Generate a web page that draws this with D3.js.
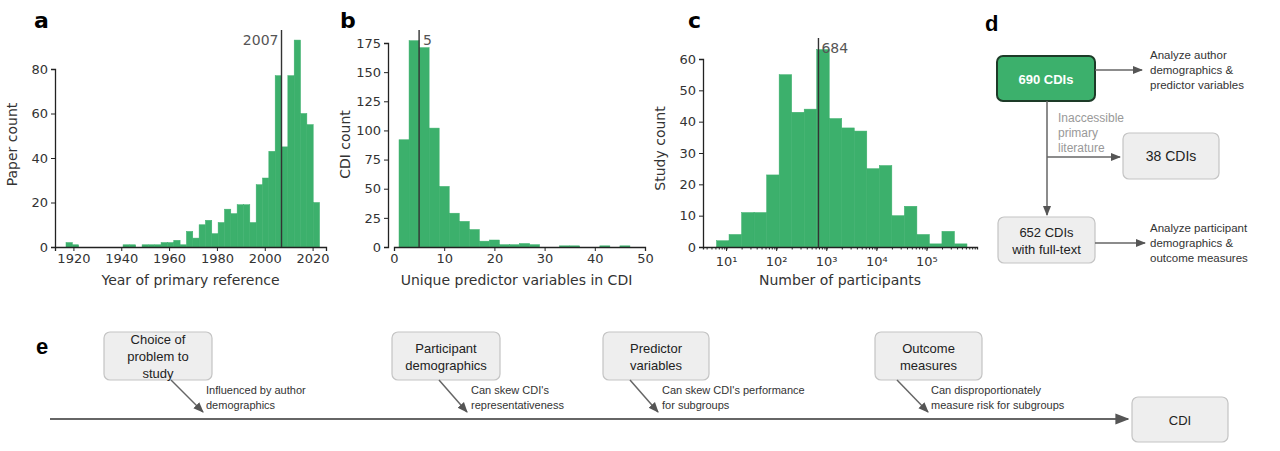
<!DOCTYPE html>
<html><head><meta charset="utf-8">
<script src="https://cdn.jsdelivr.net/npm/d3@7"></script>
<style>
body{margin:0;background:#fff}
svg text{font-family:"DejaVu Sans",sans-serif}
.dg text{font-family:"Liberation Sans",Arial,sans-serif}
</style></head><body>
<svg id="fig" width="1280" height="451"></svg>
<script>
// panel a: paper counts per ~2.65-year bin, starting 1916.9
var yearStart = 1916.9, yearStep = 2.65;
var yearCounts = [2,1,0,0,0,0,0,0,0,1,1,0,1,1,1,2,2,3,1,7,4,10,12,6,11,17,15,19,19,11,28,31,43,77,45,77,93,60,55,20];
var yearTicks = [1920,1940,1960,1980,2000,2020];
var yearMedian = 2007;

// panel b: CDI counts per 2-variable bin, starting at 1
var predStart = 1, predStep = 2;
var predCounts = [92,177,171,102,52,29,22,15,5,6,2,2,3,2,0,0,1,1,0,0,1,0,1,0];
var predTicks = [0,10,20,30,40,50];
var predMedian = 5;

// panel c: study counts per quarter-decade bin, starting at 10^0.8
var partStart = 0.8, partStep = 0.25;
var partCounts = [2,4,11,11,23,55,43,44,63,41,38,37,25,26,10,13,4,1,5,1];
var partMedian = 684;

var green = '#3cb06c';
var svg = d3.select('#fig');

function hist(o){
  var g = svg.append('g');
  var x = o.x, y = o.y;
  g.selectAll('rect').data(o.bins).enter().append('rect')
    .attr('x', function(d){ return x(d.x0); })
    .attr('width', function(d){ return Math.max(0, x(d.x1) - x(d.x0)); })
    .attr('y', function(d){ return y(d.v); })
    .attr('height', function(d){ return y(0) - y(d.v); })
    .attr('fill', green).attr('stroke', green).attr('stroke-width', 0.5);
  var ax = g.append('g').attr('transform', 'translate(0,' + o.bottom + ')').call(o.xAxis);
  var ay = g.append('g').attr('transform', 'translate(' + o.left + ',0)')
    .call(d3.axisLeft(y).tickValues(o.yTicks).tickSize(4).tickPadding(3));
  [ax, ay].forEach(function(a){
    a.select('.domain').attr('stroke', '#222').attr('stroke-width', 1.3);
    a.selectAll('.tick line').attr('stroke', '#222');
    a.selectAll('text').attr('font-size', 13).attr('fill', '#333').attr('font-family', '"DejaVu Sans"');
  });
  var mx = x(o.median);
  g.append('line').attr('x1', mx).attr('x2', mx).attr('y1', o.top).attr('y2', o.bottom)
    .attr('stroke', '#333').attr('stroke-width', 1.4);
  g.append('text').attr('x', mx + o.medDx).attr('y', o.top + 15).attr('text-anchor', o.medAnchor)
    .attr('font-size', 14).attr('fill', '#555').text(o.medLabel);
  g.append('text').attr('x', (o.left + o.right) / 2).attr('y', o.bottom + 38).attr('text-anchor', 'middle')
    .attr('font-size', 14).attr('fill', '#333').text(o.xTitle);
  g.append('text').attr('transform', 'translate(' + (o.left - 38) + ',' + ((o.top + o.bottom) / 2 + 6) + ') rotate(-90)')
    .attr('text-anchor', 'middle').attr('font-size', 14).attr('fill', '#333').text(o.yTitle);
  g.append('text').attr('x', o.labX).attr('y', 28).attr('font-size', 22).attr('font-weight', 'bold')
    .attr('font-family', '"Liberation Sans",Arial').text(o.label);
}

// a
var xa = d3.scaleLinear().domain([1912.3, 2025.6]).range([55, 326]);
var ya = d3.scaleLinear().domain([0, 80]).range([247, 69]);
hist({
  x: xa, y: ya, top: 30, bottom: 247, left: 55, right: 326,
  bins: yearCounts.map(function(v, i){ return {x0: yearStart + i * yearStep, x1: yearStart + (i + 1) * yearStep, v: v}; }),
  xAxis: d3.axisBottom(xa).tickValues(yearTicks).tickFormat(d3.format('d')).tickSize(4).tickPadding(3),
  yTicks: [0,20,40,60,80], median: yearMedian, medLabel: '2007', medDx: -3, medAnchor: 'end',
  xTitle: 'Year of primary reference', yTitle: 'Paper count', label: 'a', labX: 34
});

// b
var xb = d3.scaleLinear().domain([0, 50]).range([394, 645]);
var yb = d3.scaleLinear().domain([0, 175]).range([247, 43]);
hist({
  x: xb, y: yb, top: 30, bottom: 247, left: 388, right: 645,
  bins: predCounts.map(function(v, i){ return {x0: predStart + i * predStep, x1: predStart + (i + 1) * predStep, v: v}; }),
  xAxis: d3.axisBottom(xb).tickValues(predTicks).tickSize(4).tickPadding(3),
  yTicks: [0,25,50,75,100,125,150,175], median: predMedian, medLabel: '5', medDx: 4, medAnchor: 'start',
  xTitle: 'Unique predictor variables in CDI', yTitle: 'CDI count', label: 'b', labX: 340
});

// c
var xc = d3.scaleLog().domain([Math.pow(10, 0.53), Math.pow(10, 6)]).range([703, 977]);
var yc = d3.scaleLinear().domain([0, 60]).range([247, 59]);
var minor = [];
for (var e = 0; e <= 5; e++) for (var m = 1; m < 10; m++) {
  var v = m * Math.pow(10, e);
  if (v >= xc.domain()[0] && v <= xc.domain()[1]) minor.push(v);
}
hist({
  x: xc, y: yc, top: 38, bottom: 247, left: 703, right: 977,
  bins: partCounts.map(function(v, i){ return {x0: Math.pow(10, partStart + i * partStep), x1: Math.pow(10, partStart + (i + 1) * partStep), v: v}; }),
  xAxis: function(sel){
    sel.call(d3.axisBottom(xc).tickValues(minor).tickFormat('').tickSize(2.5));
    var sup = {1:'¹',2:'²',3:'³',4:'⁴',5:'⁵'};
    [1,2,3,4,5].forEach(function(p){
      var px = xc(Math.pow(10, p));
      sel.append('line').attr('x1', px).attr('x2', px).attr('y2', 4).attr('stroke', '#222');
      sel.append('text').attr('x', px).attr('y', 19).attr('text-anchor', 'middle').text('10' + sup[p]);
    });
  },
  yTicks: [0,10,20,30,40,50,60], median: partMedian, medLabel: '684', medDx: 3, medAnchor: 'start',
  xTitle: 'Number of participants', yTitle: 'Study count', label: 'c', labX: 688
});

// diagrams
var dg = svg.append('g').attr('class', 'dg');
var defs = svg.append('defs');
defs.append('marker').attr('id', 'ar').attr('viewBox', '0 0 10 10').attr('refX', 9).attr('refY', 5)
  .attr('markerWidth', 7).attr('markerHeight', 7).attr('orient', 'auto')
  .append('path').attr('d', 'M0,1L10,5L0,9z').attr('fill', '#555');

function box(x, y, w, h, lines, opt){
  opt = opt || {};
  dg.append('rect').attr('x', x).attr('y', y).attr('width', w).attr('height', h).attr('rx', 6)
    .attr('fill', opt.fill || '#eeeeee').attr('stroke', opt.stroke || '#c4c4c4').attr('stroke-width', opt.sw || 1.2);
  var lh = opt.lh || 16.5, c = y + h / 2 - (lines.length - 1) * lh / 2 + 5;
  lines.forEach(function(t, i){
    dg.append('text').attr('x', x + w / 2).attr('y', c + i * lh).attr('text-anchor', 'middle')
      .attr('font-size', opt.fs || 14).attr('font-weight', opt.bold ? 'bold' : null)
      .attr('fill', opt.color || '#222').text(t);
  });
}
function arrow(x1, y1, x2, y2, w){
  dg.append('line').attr('x1', x1).attr('y1', y1).attr('x2', x2).attr('y2', y2)
    .attr('stroke', '#666').attr('stroke-width', w || 1.5).attr('marker-end', 'url(#ar)');
}
function note(x, y, lines, color, fs){
  lines.forEach(function(t, i){
    dg.append('text').attr('x', x).attr('y', y + i * 15).attr('font-size', fs || 11.5)
      .attr('fill', color || '#333').text(t);
  });
}

// d
dg.append('text').attr('x', 985).attr('y', 31).attr('font-size', 22).attr('font-weight', 'bold').text('d');
box(997, 56, 98, 45, ['690 CDIs'], {fill: green, stroke: '#1d3b28', sw: 2, bold: true, color: '#fff', fs: 13});
arrow(1095, 70, 1142, 70);
note(1150, 59, ['Analyze author', 'demographics &', 'predictor variables']);
dg.append('line').attr('x1', 1047).attr('y1', 101).attr('x2', 1047).attr('y2', 157).attr('stroke', '#666').attr('stroke-width', 1.5);
arrow(1047, 157, 1047, 215);
arrow(1047, 157, 1120, 157);
note(1058, 122, ['Inaccessible', 'primary', 'literature'], '#999', 12);
box(1123, 133, 96, 46, ['38 CDIs'], {fs: 14});
box(998, 217, 97, 46, ['652 CDIs', 'with full-text'], {fs: 13, lh: 17});
arrow(1095, 243, 1145, 243);
note(1150, 232, ['Analyze participant', 'demographics &', 'outcome measures']);

// e
dg.append('text').attr('x', 36).attr('y', 354).attr('font-size', 22).attr('font-weight', 'bold').text('e');
arrow(50, 419, 1128, 419, 2);
box(104, 332, 108, 48, ['Choice of', 'problem to', 'study'], {fs: 13, lh: 17});
box(392, 332, 108, 48, ['Participant', 'demographics'], {fs: 13, lh: 17});
box(603, 332, 106, 48, ['Predictor', 'variables'], {fs: 13, lh: 17});
box(875, 332, 107, 48, ['Outcome', 'measures'], {fs: 13, lh: 17});
box(1132, 397, 96, 45, ['CDI'], {fs: 13});
arrow(171, 380, 203, 412);
arrow(439, 380, 467, 412);
arrow(630, 380, 658, 412);
arrow(897, 380, 928, 412);
note(206, 394, ['Influenced by author', 'demographics'], '#333', 11);
note(471, 394, ["Can skew CDI's", 'representativeness'], '#333', 11);
note(662, 394, ["Can skew CDI's performance", 'for subgroups'], '#333', 11);
note(931, 394, ['Can disproportionately', 'measure risk for subgroups'], '#333', 11);
</script>
</body></html>
